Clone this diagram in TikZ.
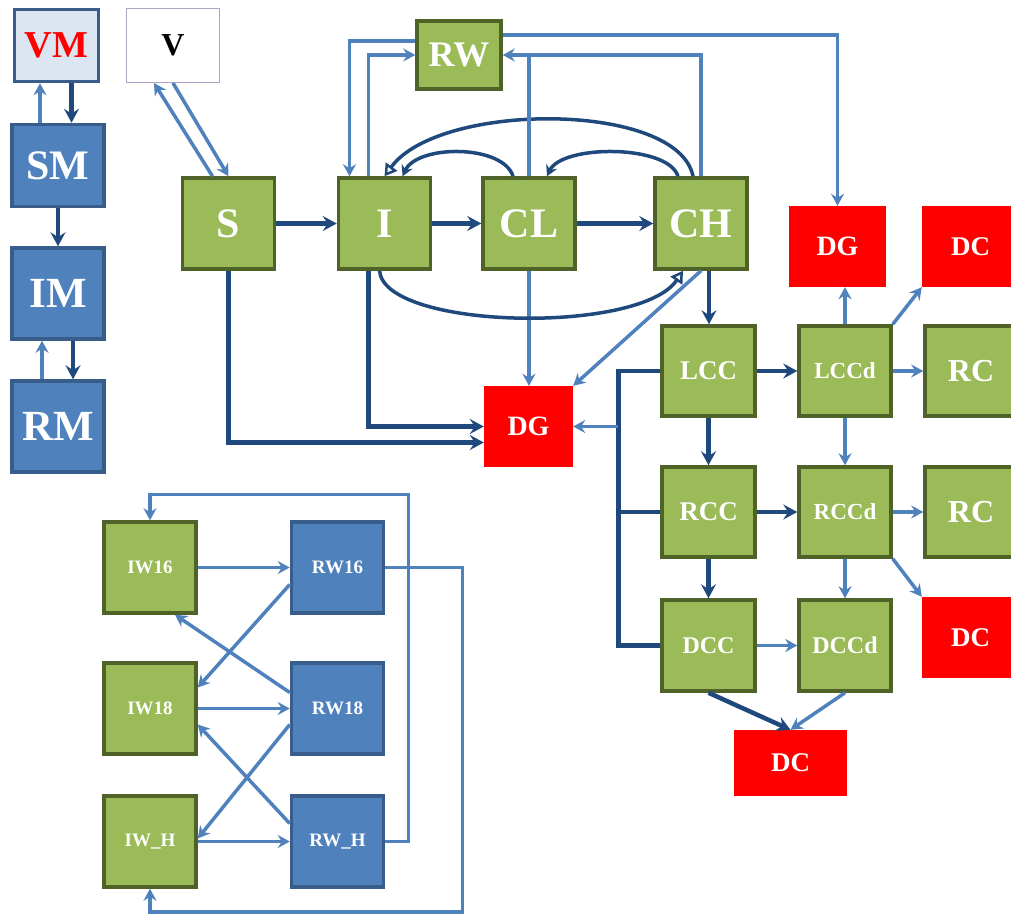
\documentclass[tikz,border=0pt]{standalone}
\usepackage{fontspec}
\setmainfont{Liberation Serif}
\usetikzlibrary{arrows.meta}
\definecolor{BoxGreen}{RGB}{155,187,89}
\definecolor{GreenEdge}{RGB}{79,98,40}
\definecolor{BoxBlue}{RGB}{79,129,189}
\definecolor{BlueEdge}{RGB}{56,93,138}
\definecolor{DarkLine}{RGB}{31,73,125}
\definecolor{LightLine}{RGB}{79,129,189}
\definecolor{PaleBlue}{RGB}{220,230,242}
\definecolor{Lilac}{RGB}{178,161,199}

\tikzset{
  box/.style={rectangle, inner sep=0pt, text=white},
  greenbox/.style={box, fill=BoxGreen, draw=GreenEdge, line width=3.5pt, minimum width=92, minimum height=91},
  bluebox/.style={box, fill=BoxBlue, draw=BlueEdge, line width=3.5pt, minimum width=92, minimum height=91},
  redbox/.style={box, fill=red, minimum width=97, minimum height=81},
  fs/.style={font=\fontsize{#1}{#1}\selectfont\bfseries},
  darkline/.style={draw=DarkLine, line width=4.5pt},
  darkarr/.style={darkline, -{Stealth[length=14pt,width=15pt,inset=5pt]}},
  arcarr/.style={draw=DarkLine, line width=3.5pt, -{Stealth[length=11pt,width=12pt,inset=4pt]}},
  openarr/.style={draw=DarkLine, line width=3.5pt, -{Triangle[open,length=12pt,width=14pt,line width=2.5pt]}},
  lightline/.style={draw=LightLine, line width=3.5pt},
  lightarr/.style={lightline, -{Stealth[length=12pt,width=13pt,inset=4pt]}},
}

\begin{document}
\begin{tikzpicture}[x=1pt, y=-1pt]
    \path[use as bounding box, clip] (0,0) rectangle (1011,915);

    % vector column
    \node[box, fill=PaleBlue, draw=BlueEdge, line width=3.5pt, minimum width=84, minimum height=72, text=red, fs=38] (VM) at (56.5,45.5) {VM};
    \node[box, fill=white, draw=Lilac, line width=1pt, minimum width=93, minimum height=74, text=black, fs=32] (V) at (173,45.5) {V};
    \node[bluebox, minimum height=82, fs=42] (SM) at (58,165.5) {SM};
    \node[bluebox, fs=43] (IM) at (58,293.5) {IM};
    \node[bluebox, fs=43] (RM) at (58,426.5) {RM};

    \draw[lightarr] ([xshift=-18]SM.north) -- ([xshift=-18]SM.north |- VM.south);
    \draw[darkarr] ([xshift=15]VM.south) -- ([xshift=15]VM.south |- SM.north);
    \draw[darkarr] (SM) -- (IM);
    \draw[darkarr] ([xshift=15]IM.south) -- ([xshift=15]IM.south |- RM.north);
    \draw[lightarr] ([xshift=-16]RM.north) -- ([xshift=-16]RM.north |- IM.south);

    % host chain
    \node[greenbox, fs=42] (S) at (228.5,223.5) {S};
    \node[greenbox, fs=42] (I) at (384.5,223.5) {I};
    \node[greenbox, fs=42] (CL) at (529,223.5) {CL};
    \node[greenbox, fs=42] (CH) at (701,223.5) {CH};
    \node[greenbox, minimum width=84, minimum height=68, fs=36] (RW) at (459,55) {RW};
    \node[redbox, fs=28] (DGa) at (837.5,246.5) {DG};
    \node[redbox, fs=27] (DCa) at (970.5,246.5) {DC};
    \node[redbox, minimum width=89, fs=28] (DG) at (528.5,426.5) {DG};

    \draw[lightarr] ([xshift=-16]S.north) -- ([xshift=-19]V.south);
    \draw[lightarr] (V.south) -- (S.north);
    \draw[darkarr] (S) -- (I);
    \draw[darkarr] (I) -- (CL);
    \draw[darkarr] (CL) -- (CH);
    \draw[darkarr] (S.south) |- ([yshift=-16]DG.west);
    \draw[darkarr] ([xshift=-16]I.south) |- (DG.west);
    \draw[lightarr] (CL.south) -- (CL.south |- DG.north);
    \draw[lightarr] (CH.south) -- (DG.north east);

    % relapse arcs
    \draw[openarr] ([xshift=-5]I.south) .. controls +(5,59) and +(-43,64) .. ([xshift=-18]CH.south);
    \draw[openarr] ([xshift=-8]CH.north) .. controls +(-15,-75) and +(55,-75) .. (I.north);
    \draw[arcarr] ([xshift=-23]CH.north) .. controls +(-10,-32) and +(15,-32) .. ([xshift=18]CL.north);
    \draw[arcarr] ([xshift=-16]CL.north) .. controls +(-10,-32) and +(15,-32) .. ([xshift=18]I.north);

    % RW links
    \draw[lightarr] ([yshift=14]RW.west) -| ([xshift=-35]I.north);
    \draw[lightarr] ([xshift=-16]I.north) |- (RW.west);
    \draw[lightarr] (CH.north) |- (RW.east);
    \draw[lightline] (CL.north) -- (CL.north |- RW.east);
    \draw[lightarr] ([yshift=20]RW.east) -| (DGa.north);

    % care grid
    \node[greenbox, minimum width=93, minimum height=90, fs=27] (LCC) at (708.5,371) {LCC};
    \node[greenbox, minimum height=90, fs=23] (LCCd) at (845,371) {LCCd};
    \node[greenbox, minimum height=90, fs=32] (RCa) at (971,371) {RC};
    \node[greenbox, minimum width=93, minimum height=90, fs=27] (RCC) at (708.5,512) {RCC};
    \node[greenbox, minimum height=90, fs=23] (RCCd) at (845,512) {RCCd};
    \node[greenbox, minimum height=90, fs=32] (RCb) at (971,512) {RC};
    \node[greenbox, minimum width=93, fs=24] (DCC) at (708.5,645.5) {DCC};
    \node[greenbox, fs=24] (DCCd) at (845,645.5) {DCCd};
    \node[redbox, fs=27] (DCb) at (970.5,637.5) {DC};
    \node[redbox, minimum width=113, minimum height=66, fs=27] (DCc) at (790.5,763) {DC};

    \draw[darkarr] ([xshift=8]CH.south) -- ([xshift=8]CH.south |- LCC.north);
    \draw[darkarr] (LCC) -- (LCCd);
    \draw[darkarr] (RCC) -- (RCCd);
    \draw[darkarr] (LCC) -- (RCC);
    \draw[darkarr] (RCC) -- (DCC);
    \draw[lightarr] (LCCd) -- (RCa);
    \draw[lightarr] (RCCd) -- (RCb);
    \draw[lightarr] (LCCd) -- (RCCd);
    \draw[lightarr] (RCCd) -- (DCCd);
    \draw[lightarr] (DCC) -- (DCCd);
    \draw[lightarr] (LCCd.north) -- (LCCd.north |- DGa.south);
    \draw[lightarr] (LCCd.north east) -- (DCa.south west);
    \draw[lightarr] (RCCd.south east) -- (DCb.north west);
    \draw[darkarr] (DCC.south) -- (DCc.north);
    \draw[lightarr] (DCCd.south) -- (DCc.north);

    \coordinate (bus) at ([xshift=-42]LCC.west);
    \draw[darkline] (LCC.west) -- (bus) |- (DCC.west);
    \draw[darkline] (RCC.west) -- (bus |- RCC.west);
    \draw[lightarr] (bus |- DG.east) -- (DG.east);

    % wolbachia block
    \node[greenbox, fs=19] (IW16) at (150,567.5) {IW16};
    \node[bluebox, fs=19] (RW16) at (337.5,567.5) {RW16};
    \node[greenbox, fs=19] (IW18) at (150,708.5) {IW18};
    \node[bluebox, fs=19] (RW18) at (337.5,708.5) {RW18};
    \node[greenbox, fs=19] (IWH) at (150,841.5) {IW\_H};
    \node[bluebox, fs=19] (RWH) at (337.5,841.5) {RW\_H};

    \draw[lightarr] (IW16) -- (RW16);
    \draw[lightarr] (IW18) -- (RW18);
    \draw[lightarr] (IWH) -- (RWH);
    \draw[lightarr] ([yshift=-17]RW16.west) -- ([yshift=21]IW18.east);
    \draw[lightarr] ([yshift=16]RW18.west) -- ([xshift=25]IW16.south);
    \draw[lightarr] ([yshift=-16]RW18.west) -- ([yshift=3]IWH.east);
    \draw[lightarr] ([yshift=18]RWH.west) -- ([yshift=-16]IW18.east);
    \draw[lightarr] (RWH.east) -- ++(23,0) -- ++(0,-347) -| (IW16.north);
    \draw[lightarr] (RW16.east) -- ++(77,0) -- ++(0,344.5) -| (IWH.south);
\end{tikzpicture}
\end{document}
